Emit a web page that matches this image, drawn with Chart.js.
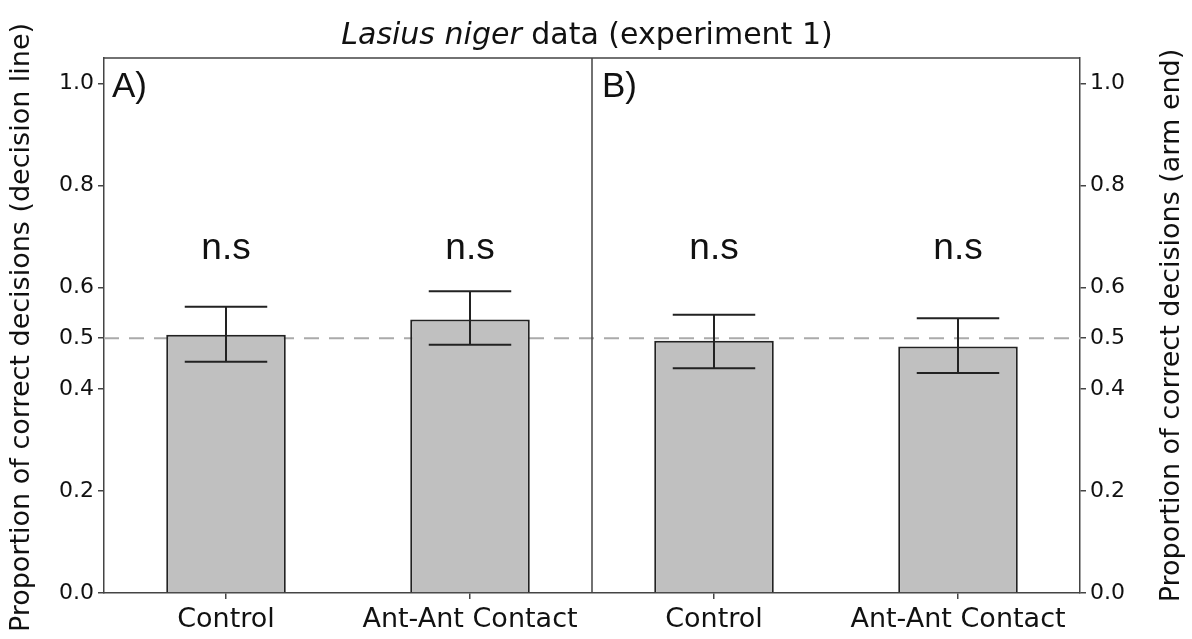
<!DOCTYPE html>
<html>
<head>
<meta charset="utf-8">
<script src="https://cdn.jsdelivr.net/npm/chart.js@4.4.1/dist/chart.umd.min.js"></script>
<style>
  body { margin: 0; background: #fff; }
</style>
</head>
<body>
<canvas id="myChart" width="1192" height="639"></canvas>
<script>
  const categories = ['Control', 'Ant-Ant Contact', 'Control', 'Ant-Ant Contact']
  const panels = ['A)', 'B)']
  const proportions = [0.507, 0.537, 0.495, 0.484]
  const err_upper = [0.562, 0.592, 0.546, 0.539]
  const err_lower = [0.454, 0.487, 0.441, 0.432]
  const signif = ['n.s', 'n.s', 'n.s', 'n.s']
  const y_ticks = [0.0, 0.2, 0.4, 0.5, 0.6, 0.8, 1.0]
  const chance = 0.5
  const left_title = 'Proportion of correct decisions (decision line)'
  const right_title = 'Proportion of correct decisions (arm end)'

  const axis_col = '#444'

  function y_axis(side, width){
    return {
      type: 'linear',
      position: side,
      min: 0,
      max: 1.05,
      afterBuildTicks: function(scale){
        scale.ticks = y_ticks.map(v => ({value: v}))
      },
      afterFit: function(scale){
        scale.width = width
      },
      ticks: {
        color: '#111',
        padding: 4,
        font: {family: 'DejaVu Sans', size: 22},
        callback: v => v.toFixed(1)
      },
      grid: {drawOnChartArea: false, tickLength: 6, color: axis_col, lineWidth: 1.5},
      border: {display: true, color: axis_col, width: 1.5}
    }
  }

  // boxes, divider, dashed 0.5 line, error bars and labels
  const extras = {
    id: 'extras',
    beforeDatasetsDraw(chart){
      const ctx = chart.ctx
      const a = chart.chartArea
      const y = chart.scales.y.getPixelForValue(chance)
      ctx.save()
      ctx.strokeStyle = '#aaa'
      ctx.lineWidth = 2
      ctx.setLineDash([15, 10])
      ctx.beginPath()
      ctx.moveTo(a.left, y)
      ctx.lineTo(a.right, y)
      ctx.stroke()
      ctx.restore()
    },
    afterDatasetsDraw(chart){
      const ctx = chart.ctx
      const a = chart.chartArea
      const xs = chart.scales.x
      const ys = chart.scales.y
      const mid = (xs.getPixelForValue(1) + xs.getPixelForValue(2)) / 2

      ctx.save()
      ctx.strokeStyle = axis_col
      ctx.lineWidth = 1.5
      ctx.beginPath()
      ctx.moveTo(a.left, a.top)
      ctx.lineTo(a.right, a.top)
      ctx.moveTo(mid, a.top)
      ctx.lineTo(mid, a.bottom)
      ctx.stroke()

      // error bars
      const bars = chart.getDatasetMeta(0).data
      ctx.strokeStyle = '#222'
      ctx.lineWidth = 2
      bars.forEach((bar, i) => {
        const half = bar.width * 0.345
        const yt = ys.getPixelForValue(err_upper[i])
        const yb = ys.getPixelForValue(err_lower[i])
        ctx.beginPath()
        ctx.moveTo(bar.x, yt)
        ctx.lineTo(bar.x, yb)
        ctx.moveTo(bar.x - half, yt)
        ctx.lineTo(bar.x + half, yt)
        ctx.moveTo(bar.x - half, yb)
        ctx.lineTo(bar.x + half, yb)
        ctx.stroke()
      })

      // n.s labels
      ctx.fillStyle = '#111'
      ctx.font = '37px "Liberation Sans"'
      ctx.textAlign = 'center'
      ctx.textBaseline = 'middle'
      bars.forEach((bar, i) => {
        ctx.fillText(signif[i], bar.x, ys.getPixelForValue(0.675))
      })

      // panel letters
      ctx.font = '35px "Liberation Sans"'
      ctx.textAlign = 'left'
      ctx.textBaseline = 'top'
      ctx.fillText(panels[0], a.left + 8, a.top + 12)
      ctx.fillText(panels[1], mid + 10, a.top + 12)

      // axis titles, both read bottom to top
      const cy = (a.top + a.bottom) / 2
      ctx.font = '27px "DejaVu Sans"'
      ctx.textAlign = 'center'
      ctx.textBaseline = 'middle'
      ctx.save()
      ctx.translate(22, cy + 2)
      ctx.rotate(-Math.PI / 2)
      ctx.fillText(left_title, 0, 0)
      ctx.restore()
      ctx.save()
      ctx.translate(1172, cy)
      ctx.rotate(-Math.PI / 2)
      ctx.fillText(right_title, 0, 0)
      ctx.restore()

      // title with italic species name
      const t1 = 'Lasius niger'
      const t2 = ' data (experiment 1)'
      ctx.textAlign = 'left'
      ctx.font = 'italic 30px "DejaVu Sans"'
      const w1 = ctx.measureText(t1).width
      ctx.font = '30px "DejaVu Sans"'
      const w2 = ctx.measureText(t2).width
      const x0 = (a.left + a.right) / 2 - 5 - (w1 + w2) / 2
      ctx.font = 'italic 30px "DejaVu Sans"'
      ctx.fillText(t1, x0, 36)
      ctx.font = '30px "DejaVu Sans"'
      ctx.fillText(t2, x0 + w1, 36)
      ctx.restore()
    }
  }

  const config = {
    type: 'bar',
    data: {
      labels: categories,
      datasets: [{
        data: proportions,
        backgroundColor: '#c0c0c0',
        borderColor: '#222',
        borderWidth: 2,
        barPercentage: 0.49,
        categoryPercentage: 1
      }]
    },
    options: {
      responsive: false,
      animation: false,
      layout: {padding: {top: 58, left: 0, right: 0, bottom: 0}},
      plugins: {
        legend: {display: false},
        tooltip: {enabled: false}
      },
      scales: {
        x: {
          type: 'category',
          afterFit: function(scale){ scale.height = 46 },
          ticks: {color: '#111', padding: 5, font: {family: 'DejaVu Sans', size: 27}},
          grid: {drawOnChartArea: false, offset: false, tickLength: 6, color: axis_col, lineWidth: 1.5},
          border: {display: true, color: axis_col, width: 1.5}
        },
        y: y_axis('left', 104),
        y2: y_axis('right', 112)
      }
    },
    plugins: [extras]
  }

  const myChart = new Chart(document.getElementById('myChart'), config)
</script>
</body>
</html>
